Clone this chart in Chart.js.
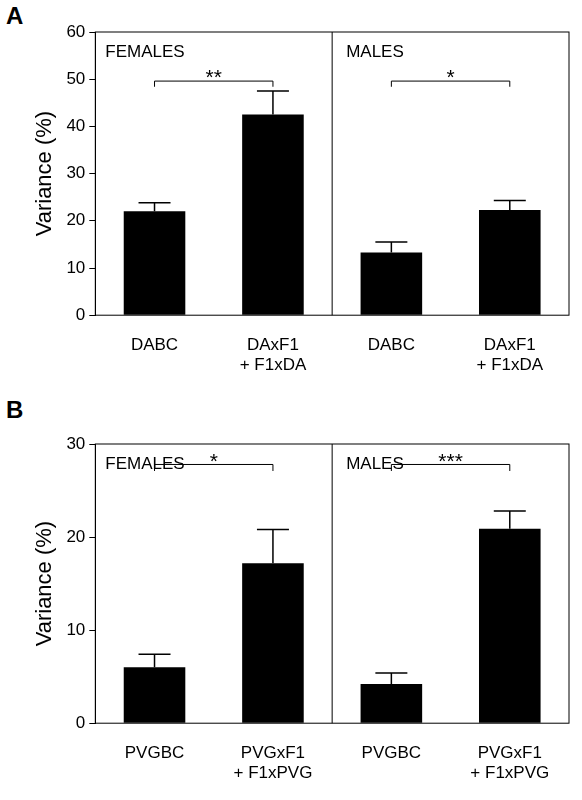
<!DOCTYPE html>
<html><head><meta charset="utf-8">
<script src="https://cdn.jsdelivr.net/npm/chart.js@4/dist/chart.umd.min.js"></script>
<style>
body{margin:0;background:#fff;font-family:"Liberation Sans",Arial,sans-serif;}
.panel{position:absolute;left:0;width:582px;}
.letter{position:absolute;left:6px;font-size:24px;font-weight:bold;}
</style></head><body>
<div class="letter" style="top:2px">A</div>
<div class="panel" style="top:0;height:392px"><canvas id="chartA"></canvas></div>
<div class="letter" style="top:396px">B</div>
<div class="panel" style="top:412px;height:388px"><canvas id="chartB"></canvas></div>
<script>
let labelsA = ["DABC", ["DAxF1", "+ F1xDA"], "DABC", ["DAxF1", "+ F1xDA"]];
let valuesA = [22, 42.5, 13.3, 22.3];
let errorsA = [1.8, 5, 2.2, 2];
let labelsB = ["PVGBC", ["PVGxF1", "+ F1xPVG"], "PVGBC", ["PVGxF1", "+ F1xPVG"]];
let valuesB = [6, 17.2, 4.2, 20.9];
let errorsB = [1.4, 3.6, 1.2, 1.9];
let groups = ["FEMALES", "MALES"];
let starsA = ["**", "*"];
let starsB = ["*", "***"];

function decoPlugin(errors, stars, bracketY, tickDrop) {
  return {
    id: 'deco',
    afterDatasetsDraw(chart) {
      let ctx = chart.ctx, a = chart.chartArea;
      let y = chart.scales.y;
      ctx.save();
      ctx.strokeStyle = '#000';
      ctx.fillStyle = '#000';
      ctx.lineWidth = 1;
      // frame + divider
      ctx.strokeRect(a.left, a.top, a.right - a.left, a.bottom - a.top);
      let mid = (a.left + a.right) / 2;
      ctx.beginPath(); ctx.moveTo(mid, a.top); ctx.lineTo(mid, a.bottom); ctx.stroke();
      // error bars (upper only)
      let meta = chart.getDatasetMeta(0);
      meta.data.forEach((bar, i) => {
        let v = chart.data.datasets[0].data[i];
        let yTop = y.getPixelForValue(v + errors[i]);
        ctx.lineWidth = 1.5;
        ctx.beginPath();
        ctx.moveTo(bar.x, bar.y); ctx.lineTo(bar.x, yTop);
        ctx.moveTo(bar.x - 16, yTop); ctx.lineTo(bar.x + 16, yTop);
        ctx.stroke();
      });
      // group labels, brackets, stars
      ctx.font = '17px "Liberation Sans", Arial, sans-serif';
      ctx.textBaseline = 'top';
      ctx.textAlign = 'left';
      ctx.fillText(groups[0], a.left + 10, a.top + 12);
      ctx.fillText(groups[1], mid + 14, a.top + 12);
      ctx.lineWidth = 1;
      for (let g = 0; g < 2; g++) {
        let x1 = meta.data[g * 2].x, x2 = meta.data[g * 2 + 1].x;
        let yb = y.getPixelForValue(bracketY), yt = y.getPixelForValue(bracketY - tickDrop);
        ctx.beginPath();
        ctx.moveTo(x1, yt); ctx.lineTo(x1, yb); ctx.lineTo(x2, yb); ctx.lineTo(x2, yt);
        ctx.stroke();
        ctx.font = '21px "Liberation Sans", Arial, sans-serif';
        ctx.textAlign = 'center';
        ctx.textBaseline = 'bottom';
        ctx.fillText(stars[g], (x1 + x2) / 2, yb + 8);
      }
      ctx.restore();
    }
  };
}

function makeChart(id, labels, values, errors, stars, yMax, step, bracketY, tickDrop) {
  return new Chart(document.getElementById(id), {
    type: 'bar',
    data: {
      labels: labels,
      datasets: [{ data: values, backgroundColor: '#000', barPercentage: 0.52, categoryPercentage: 1 }]
    },
    options: {
      responsive: true,
      maintainAspectRatio: false,
      animation: false,
      layout: { padding: { top: 32, right: 13, left: 28, bottom: 4 } },
      plugins: { legend: { display: false }, tooltip: { enabled: false } },
      scales: {
        x: {
          grid: { display: false },
          border: { display: false },
          ticks: { color: '#000', font: { size: 17, family: '"Liberation Sans", Arial' }, padding: 12, maxRotation: 0 }
        },
        y: {
          min: 0, max: yMax,
          grid: { drawOnChartArea: false, drawTicks: true, tickLength: 6, color: '#000' },
          border: { color: '#000' },
          ticks: { stepSize: step, color: '#000', font: { size: 17, family: '"Liberation Sans", Arial' }, padding: 4 },
          title: { display: true, text: 'Variance (%)', color: '#000', font: { size: 22, family: '"Liberation Sans", Arial' } }
        }
      }
    },
    plugins: [decoPlugin(errors, stars, bracketY, tickDrop)]
  });
}

makeChart('chartA', labelsA, valuesA, errorsA, starsA, 60, 10, 49.6, 1.2);
makeChart('chartB', labelsB, valuesB, errorsB, starsB, 30, 10, 27.8, 0.7);
</script>
</body></html>
